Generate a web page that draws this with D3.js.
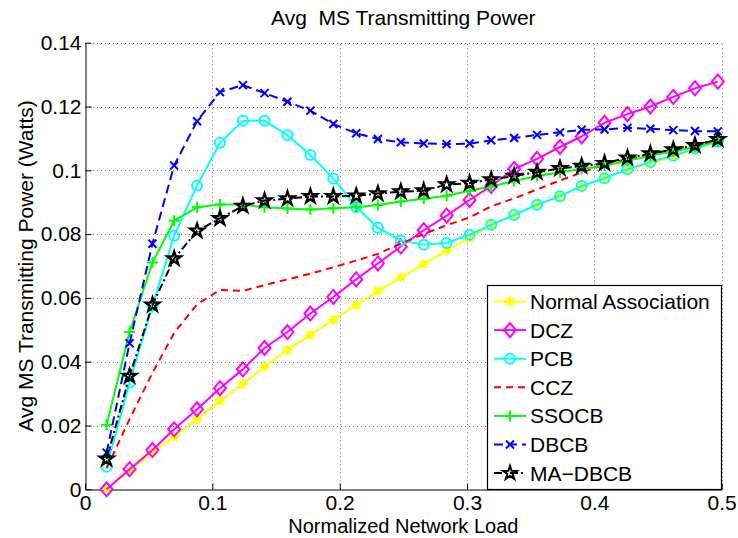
<!DOCTYPE html>
<html><head><meta charset="utf-8">
<script src="https://cdn.jsdelivr.net/npm/d3@7/dist/d3.min.js"></script>
<style>
body{margin:0;background:#fff}
svg{display:block}
text{font-family:"Liberation Sans",Arial,Helvetica,sans-serif;fill:#000}
</style>
</head><body>
<svg id="chart" width="738" height="538"></svg>
<script>
// ---------------- data ----------------
const load = [0.017,0.035,0.053,0.070,0.088,0.106,0.124,0.141,0.159,0.177,0.195,0.213,0.230,0.248,
              0.266,0.284,0.302,0.319,0.337,0.355,0.373,0.390,0.408,0.426,0.444,0.462,0.479,0.497];
const normalAssociation = [0,0.0058,0.0115,0.0165,0.0220,0.0278,0.0330,0.0384,0.0437,0.0484,0.0531,0.0577,0.0622,0.0664,
              0.0706,0.0748,0.0788,0.0829,0.0860,0.0891,0.0919,0.0949,0.0977,0.1001,0.1022,0.1043,0.1065,0.1090];
const dcz = [0,0.0063,0.0123,0.0188,0.0251,0.0317,0.0376,0.0443,0.0493,0.0551,0.0603,0.0658,0.0708,0.0761,
              0.0812,0.0858,0.0907,0.0951,0.1004,0.1036,0.1073,0.1106,0.1149,0.1176,0.1200,0.1230,0.1257,0.1278];
const pcb = [0.0071,0.0334,0.0575,0.0795,0.0952,0.1086,0.1155,0.1155,0.1110,0.1048,0.0974,0.0885,0.0820,0.0780,
              0.0767,0.0772,0.0798,0.0829,0.0860,0.0892,0.0919,0.0951,0.0975,0.1003,0.1026,0.1046,0.1068,0.1090];
const ccz = [0.0066,0.0220,0.0365,0.0490,0.0580,0.0625,0.0622,0.0640,0.0658,0.0676,0.0696,0.0717,0.0738,0.0770,
              0.0800,0.0828,0.0852,0.0887,0.0912,0.0940,0.0968,0.0993,0.1018,0.1035,0.1051,0.1066,0.1080,0.1097];
const ssocb = [0.0202,0.0493,0.0711,0.0842,0.0884,0.0893,0.0893,0.0884,0.0880,0.0877,0.0881,0.0884,0.0891,0.0902,
              0.0911,0.0920,0.0936,0.0949,0.0966,0.0982,0.0994,0.1004,0.1015,0.1029,0.1046,0.1059,0.1074,0.1093];
const dbcb = [0.0115,0.0458,0.0770,0.1015,0.1154,0.1245,0.1267,0.1242,0.1215,0.1187,0.1145,0.1116,0.1098,0.1088,
              0.1084,0.1082,0.1084,0.1094,0.1101,0.1111,0.1119,0.1127,0.1128,0.1133,0.1130,0.1126,0.1123,0.1122];
const maDbcb = [0.0095,0.0355,0.0578,0.0723,0.0810,0.0849,0.0888,0.0905,0.0911,0.0918,0.0918,0.0920,0.0927,0.0933,
              0.0936,0.0955,0.0960,0.0971,0.0982,0.0994,0.1006,0.1013,0.1022,0.1039,0.1052,0.1065,0.1078,0.1097];

const seriesNames = ["Normal Association","DCZ","PCB","CCZ","SSOCB","DBCB","MA\u2212DBCB"];
const xTicks = [0,0.1,0.2,0.3,0.4,0.5];
const yTicks = [0,0.02,0.04,0.06,0.08,0.1,0.12,0.14];
const titleText = "Avg\u00a0 MS Transmitting Power";
const xLabel = "Normalized Network Load";
const yLabel = "Avg MS Transmitting Power (Watts)";

// ---------------- styles ----------------
const styles = [
  {color:"#ffff00", dash:null,        marker:"asterisk"},
  {color:"#ff00ff", dash:null,        marker:"diamond"},
  {color:"#00ffff", dash:null,        marker:"circle"},
  {color:"#ff0000", dash:"7,5",       marker:null},
  {color:"#00ff00", dash:null,        marker:"plus"},
  {color:"#0000ff", dash:"9,5",       marker:"cross"},
  {color:"#000000", dash:"8,3,2,3",   marker:"star"}
];
const seriesValues = [normalAssociation, dcz, pcb, ccz, ssocb, dbcb, maDbcb];

// ---------------- setup ----------------
const svg = d3.select("#chart");
const x = d3.scaleLinear().domain([0,0.5]).range([85,721.7]);
const y = d3.scaleLinear().domain([0,0.14]).range([489.3,42.7]);
const FS = 21;

// grid
const grid = svg.append("g").attr("stroke","#777").attr("stroke-width",1).attr("stroke-dasharray","1,3");
grid.selectAll("line.v").data(xTicks.filter(d=>d>0)).join("line")
  .attr("x1",d=>Math.round(x(d))+0.5).attr("x2",d=>Math.round(x(d))+0.5)
  .attr("y1",y(0)).attr("y2",y(0.14));
grid.selectAll("line.h").data(yTicks.filter(d=>d>0)).join("line")
  .attr("y1",d=>Math.round(y(d))+0.5).attr("y2",d=>Math.round(y(d))+0.5)
  .attr("x1",x(0)).attr("x2",x(0.5));

// axes
const fmt = d => String(+d.toFixed(2));
const xAxis = svg.append("g").attr("transform",`translate(0,${Math.round(y(0))+0.5})`)
  .call(d3.axisBottom(x).tickValues(xTicks).tickFormat(fmt).tickSizeInner(-6).tickSizeOuter(0).tickPadding(6));
const yAxis = svg.append("g").attr("transform",`translate(${Math.round(x(0))+0.5},0)`)
  .call(d3.axisLeft(y).tickValues(yTicks).tickFormat(fmt).tickSizeInner(-6).tickSizeOuter(0).tickPadding(4));
[xAxis,yAxis].forEach(a=>{
  a.attr("font-size",FS).attr("font-family",null);
  a.select(".domain").attr("stroke","#000").attr("stroke-width",1);
  a.selectAll(".tick line").attr("stroke","#000");
  a.selectAll(".tick text").attr("fill","#000");
});

// markers
function markerPath(type){
  const p = d3.path();
  if(type==="diamond"){ p.moveTo(0,-7); p.lineTo(6,0); p.lineTo(0,7); p.lineTo(-6,0); p.closePath(); }
  else if(type==="circle"){ p.moveTo(5,0); p.arc(0,0,5,0,Math.PI*2); }
  else if(type==="plus"){ p.moveTo(-5.5,0); p.lineTo(5.5,0); p.moveTo(0,-5.5); p.lineTo(0,5.5); }
  else if(type==="cross"){ p.moveTo(-4,-4); p.lineTo(4,4); p.moveTo(-4,4); p.lineTo(4,-4); }
  else if(type==="asterisk"){ const a=5, b=3.6; p.moveTo(-a,0); p.lineTo(a,0); p.moveTo(0,-a); p.lineTo(0,a);
      p.moveTo(-b,-b); p.lineTo(b,b); p.moveTo(-b,b); p.lineTo(b,-b); }
  else if(type==="star"){ const R=7.2, r=R*0.382;
      for(let i=0;i<10;i++){ const ang=-Math.PI/2+i*Math.PI/5; const rr=i%2?r:R;
        const px=rr*Math.cos(ang), py=rr*Math.sin(ang); if(i===0)p.moveTo(px,py); else p.lineTo(px,py);} p.closePath(); }
  return p.toString();
}

const line = d3.line().x(d=>x(d[0])).y(d=>y(d[1]));
const plot = svg.append("g");
seriesValues.forEach((vals,i)=>{
  const st = styles[i];
  const pts = load.map((lv,j)=>[lv,vals[j]]);
  const g = plot.append("g");
  g.append("path").datum(pts).attr("d",line).attr("fill","none")
    .attr("stroke",st.color).attr("stroke-width",2).attr("stroke-linejoin","round")
    .attr("stroke-dasharray",st.dash);
  if(st.marker){
    g.selectAll("path.m").data(pts).join("path").attr("class","m")
      .attr("transform",d=>`translate(${x(d[0])},${y(d[1])})`)
      .attr("d",markerPath(st.marker)).attr("fill","none")
      .attr("stroke",st.color).attr("stroke-width",st.marker==="star"?2.3:2).attr("stroke-linejoin","miter");
  }
});

// title & labels
svg.append("text").attr("x",(x(0)+x(0.5))/2).attr("y",25).attr("text-anchor","middle")
  .attr("font-size",FS).text(titleText);
svg.append("text").attr("x",(x(0)+x(0.5))/2).attr("y",533.3).attr("text-anchor","middle")
  .attr("font-size",20).text(xLabel);
svg.append("text").attr("transform",`translate(33,${(y(0)+y(0.14))/2}) rotate(-90)`)
  .attr("text-anchor","middle").attr("font-size",FS).text(yLabel);

// legend
const lg = svg.append("g");
lg.append("rect").attr("x",487.5).attr("y",285.5).attr("width",234).attr("height",204)
  .attr("fill","#fff").attr("stroke","#000").attr("stroke-width",1.2);
seriesNames.forEach((name,i)=>{
  const st = styles[i];
  const cy = 301.5 + i*28.6;
  lg.append("line").attr("x1",494).attr("x2",526).attr("y1",cy).attr("y2",cy)
    .attr("stroke",st.color).attr("stroke-width",2).attr("stroke-dasharray",st.dash);
  if(st.marker){
    lg.append("path").attr("transform",`translate(510,${cy})`).attr("d",markerPath(st.marker))
      .attr("fill","none").attr("stroke",st.color).attr("stroke-width",2);
  }
  lg.append("text").attr("x",530).attr("y",cy+7.5).attr("font-size",FS).text(name);
});
</script>
</body></html>
